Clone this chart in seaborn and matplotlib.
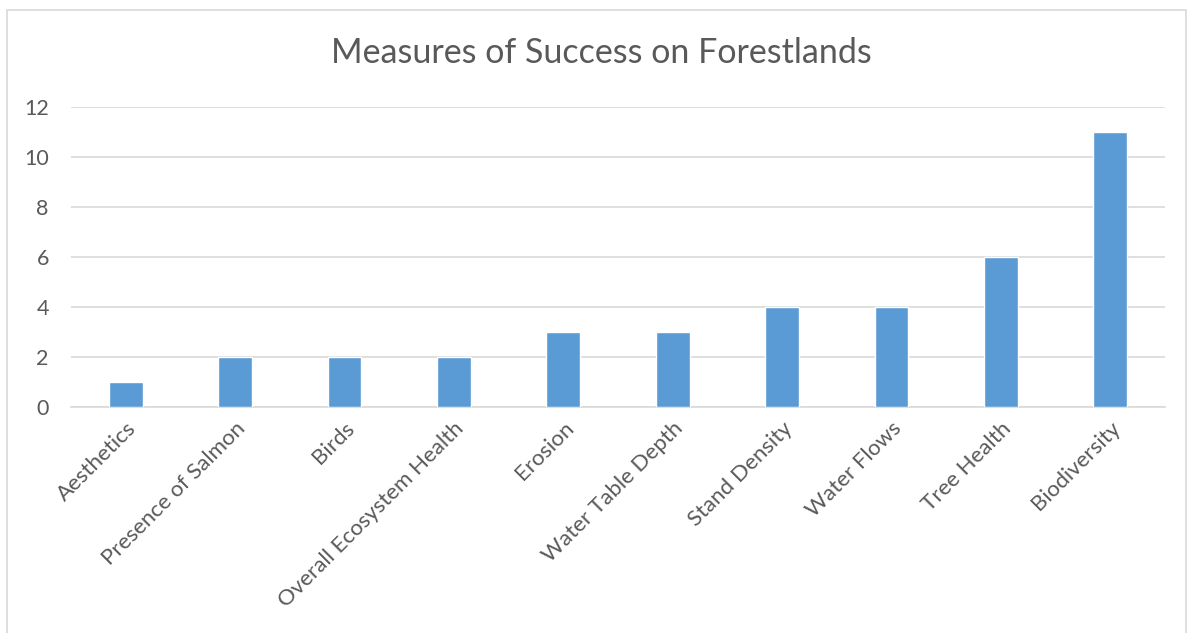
import matplotlib
matplotlib.use("Agg")
import matplotlib.pyplot as plt
import seaborn as sns
import pandas as pd
from matplotlib.patches import Rectangle

categories = ["Aesthetics", "Presence of Salmon", "Birds", "Overall Ecosystem Health",
              "Erosion", "Water Table Depth", "Stand Density", "Water Flows",
              "Tree Health", "Biodiversity"]
values = [1, 2, 2, 2, 3, 3, 4, 4, 6, 11]
y_ticks = [0, 2, 4, 6, 8, 10, 12]

sns.set_theme(style="white")
plt.rcParams['font.family'] = ['Lato', 'DejaVu Sans']

df = pd.DataFrame({"category": categories, "value": values})

W, H = 1187, 633
fig = plt.figure(figsize=(W / 100, H / 100), dpi=100)
ax = fig.add_axes([71 / W, 1 - 407 / H, (1165 - 71) / W, (407 - 107) / H])

sns.barplot(data=df, x="category", y="value", color="#5B9BD5", width=0.31,
            saturation=1, ax=ax, zorder=3)

ax.set_ylim(0, 12)
ax.set_xlim(-0.5, len(categories) - 0.5)
ax.set_yticks(y_ticks)
ax.set_yticklabels([str(t) for t in y_ticks], fontsize=15.5, color="#595959")
ax.yaxis.grid(True, color="#D9D9D9", linewidth=1.2, zorder=0)
ax.xaxis.grid(False)
for s in ["top", "right", "left"]:
    ax.spines[s].set_visible(False)
ax.spines["bottom"].set_color("#D9D9D9")
ax.spines["bottom"].set_linewidth(1.2)
ax.tick_params(axis="y", length=0, pad=16)
ax.tick_params(axis="x", length=0, pad=8)
ax.set_xticks(range(len(categories)))
ax.set_xticklabels(categories, rotation=45, ha="right", rotation_mode="anchor",
                   fontsize=16, color="#595959")
ax.set_xlabel("")
ax.set_ylabel("")

fig.text(601 / W, 1 - 53 / H, "Measures of Success on Forestlands", ha="center", va="center",
         fontsize=24.5, color="#595959")

fig.patches.append(Rectangle((7 / W, -0.02), (1186 - 7) / W, 1 - 10 / H + 0.02,
                             transform=fig.transFigure, fill=False,
                             edgecolor="#D9D9D9", linewidth=1.2))

fig.savefig("out.png", dpi=100)
